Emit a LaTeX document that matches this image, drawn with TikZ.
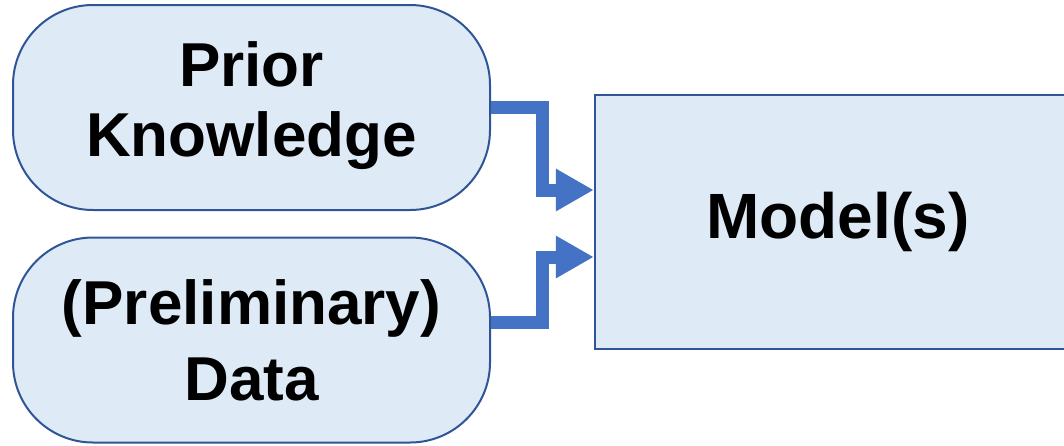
\documentclass[tikz,border=0pt]{standalone}
\usepackage{fontspec}
\setmainfont{Liberation Sans}
\usetikzlibrary{arrows.meta,calc}
\definecolor{boxfill}{HTML}{DEEBF7}
\definecolor{boxline}{HTML}{2F5597}
\definecolor{conncol}{HTML}{4472C4}
\tikzset{
  pill/.style={draw=boxline, fill=boxfill, line width=2pt, rounded corners=80pt,
    minimum width=477pt, minimum height=205pt, align=center, inner sep=0pt},
  modelbox/.style={draw=boxline, fill=boxfill, line width=2.5pt,
    minimum width=486pt, minimum height=254pt, align=center, inner sep=0pt},
  conn/.style={draw=conncol, line width=13pt, line join=miter,
    -{Triangle[length=38pt,width=40pt]}}
}
\begin{document}
\begin{tikzpicture}[x=1pt,y=-1pt]
\clip (0,0) rectangle (1064,445);
\useasboundingbox (0,0) rectangle (1064,445);
\node[pill, font={\fontsize{62}{70}\selectfont\bfseries}] (pk) at (251.5,107.5) {\raisebox{-3pt}{\begin{tabular}{@{}c@{}}Prior\\Knowledge\end{tabular}}};
\node[pill, font={\fontsize{62}{76}\selectfont\bfseries}] (pd) at (251.5,340) {(Preliminary)\\Data};
\node[modelbox, font={\fontsize{64}{70}\selectfont\bfseries}] (ms) at (838,222) {\raisebox{-3pt}{Model(s)}};
\draw[conn] (pk.east) -- (542,107.5) -- (542,190) -- (ms.west |- 0,190);
\draw[conn] ($(pd.east)+(0,-18)$) -- (542,322) -- (542,257) -- (ms.west |- 0,257);
\end{tikzpicture}
\end{document}
